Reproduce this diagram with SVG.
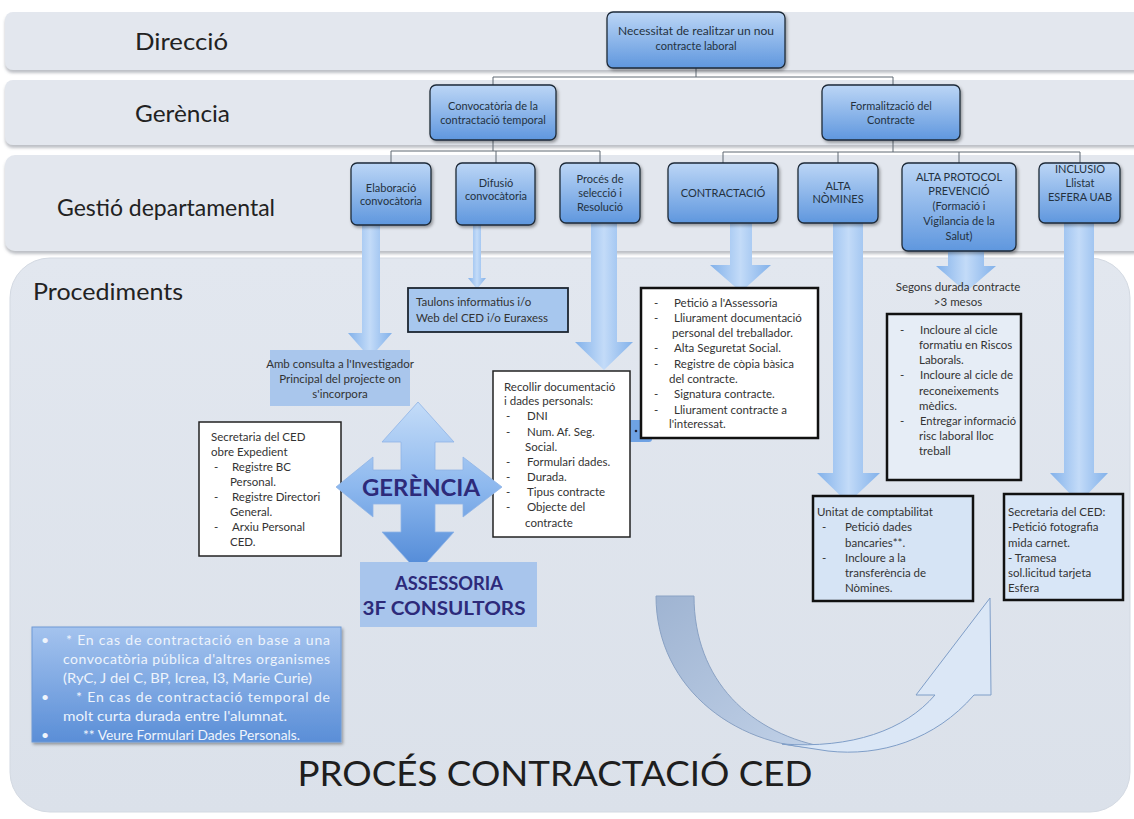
<svg xmlns="http://www.w3.org/2000/svg" width="1134" height="819" viewBox="0 0 1134 819">
<defs>
  <linearGradient id="gNode" x1="0" y1="0" x2="0" y2="1">
    <stop offset="0" stop-color="#bcd6f6"/>
    <stop offset="1" stop-color="#5f97de"/>
  </linearGradient>
  <linearGradient id="gShaft" x1="0" y1="0" x2="1" y2="0">
    <stop offset="0" stop-color="#82b1ea"/>
    <stop offset="0.5" stop-color="#c3dbf8"/>
    <stop offset="1" stop-color="#82b1ea"/>
  </linearGradient>
  <linearGradient id="gCross" x1="0" y1="0" x2="0" y2="1">
    <stop offset="0" stop-color="#c4dcf8"/>
    <stop offset="0.5" stop-color="#8db8ee"/>
    <stop offset="1" stop-color="#4f88d6"/>
  </linearGradient>
  <linearGradient id="gNote" x1="0" y1="0" x2="0" y2="1">
    <stop offset="0" stop-color="#a4c3ee"/>
    <stop offset="1" stop-color="#5a8ed7"/>
  </linearGradient>
  <linearGradient id="gPanel" x1="0" y1="0" x2="0" y2="1">
    <stop offset="0" stop-color="#e2e7ef"/>
    <stop offset="1" stop-color="#dbe1ea"/>
  </linearGradient>
  <linearGradient id="gCurveDark" x1="0" y1="0" x2="1" y2="1">
    <stop offset="0" stop-color="#9fb4d2"/>
    <stop offset="1" stop-color="#c2d2e8"/>
  </linearGradient>
  <filter id="sh" x="-10%" y="-10%" width="130%" height="140%">
    <feDropShadow dx="1.5" dy="2" stdDeviation="1.5" flood-color="#000" flood-opacity="0.35"/>
  </filter>
  <filter id="bandSh" x="-5%" y="-10%" width="110%" height="140%">
    <feDropShadow dx="0" dy="3" stdDeviation="1.5" flood-color="#6d7480" flood-opacity="0.45"/>
  </filter>
  <style>
    .band{fill:#e3e7ee;}
    .lane{font-family:Lato,"Open Sans",sans-serif;font-size:24px;fill:#222;}
    .node rect{fill:url(#gNode);stroke:#1e2a38;stroke-width:1.3;}
    .nt{font-family:Lato,"Open Sans",sans-serif;font-size:11px;fill:#24323f;text-anchor:middle;}
    .nts{font-family:Lato,"Open Sans",sans-serif;font-size:11px;fill:#24323f;text-anchor:middle;}
    .conn{stroke:#5f6872;stroke-width:1;fill:none;}
    .arrow{fill:url(#gShaft);}
    .bt{font-family:Lato,"Open Sans",sans-serif;font-size:11.5px;fill:#333;}
    .btc{font-family:Lato,"Open Sans",sans-serif;font-size:11.5px;fill:#333;text-anchor:middle;}
    .wbox{fill:#fff;stroke:#222;stroke-width:1.5;}
    .kbox{stroke:#111;stroke-width:2.5;}
    .big{font-family:Lato,"Open Sans",sans-serif;font-weight:bold;fill:#2d2a7a;text-anchor:middle;}
    .note{font-family:Lato,"Open Sans",sans-serif;font-size:14px;fill:#eef4fc;}
  </style>
</defs>

<rect width="1134" height="819" fill="#ffffff"/>

<!-- swimlane bands -->
<g id="lanes">
  <rect class="band" x="5" y="12" width="1140" height="58" rx="8" filter="url(#bandSh)"/>
  <rect class="band" x="5" y="80" width="1140" height="65" rx="8" filter="url(#bandSh)"/>
  <rect class="band" x="5" y="155" width="1140" height="96" rx="10" filter="url(#bandSh)"/>
  <rect x="10" y="258" width="1120" height="554" rx="40" fill="url(#gPanel)" stroke="#d3d9e2" stroke-width="1"/>
  <text class="lane" x="135" y="50" textLength="93" lengthAdjust="spacingAndGlyphs">Direcció</text>
  <text class="lane" x="135" y="122" textLength="95" lengthAdjust="spacingAndGlyphs">Gerència</text>
  <text class="lane" x="57" y="216" textLength="218" lengthAdjust="spacingAndGlyphs">Gestió departamental</text>
  <text class="lane" x="33" y="300" textLength="150" lengthAdjust="spacingAndGlyphs">Procediments</text>
</g>

<!-- connectors -->
<g id="connectors">
  <path class="conn" d="M696,68 V77 M493,77 H893 M493,77 V85 M893,77 V85"/>
  <path class="conn" d="M493,140 V151 M391,151 H600 M391,151 V163 M496,151 V163 M600,151 V163"/>
  <path class="conn" d="M893,140 V152 M723,152 H1080 M723,152 V163 M838,152 V163 M959,152 V163 M1080,152 V163"/>
  <path class="arrow" d="M362,225 H380 V333 H392 L370,358 L348,333 H362 Z"/>
  <path class="arrow" d="M473,225 H481 V278 H486 L477,289 L468,278 H473 Z"/>
  <path class="arrow" d="M591,223 H617 V342 H633 L604,370 L575,342 H591 Z"/>
  <path class="arrow" d="M730,223 H752 V265 H771 L741,292 L710,265 H730 Z"/>
  <path class="arrow" d="M833,223 H863 V473 H880 L848,503 L817,473 H833 Z"/>
  <path class="arrow" d="M948,251 H984 V266 H996 L966,292 L936,266 H948 Z"/>
  <path class="arrow" d="M1064,223 H1094 V473 H1108 L1079,503 L1050,473 H1064 Z"/>
  <!-- curved arrow -->
  <path d="M656,596 H694 C694,680 750,735 830,748 C740,751 656,690 656,596 Z" fill="url(#gCurveDark)" stroke="#8aa2c4" stroke-width="1"/>
  <path d="M782,744 C852,749 905,730 935,695 L916,695 L990,598 L991,695 L974,695 C935,740 880,757 828,751 Z" fill="#dbe7f6" stroke="#7f9ec8" stroke-width="1"/>
  <!-- small link -->
  <rect x="626" y="420" width="26" height="22" rx="3" fill="#6ea2e4"/>
  <circle cx="636" cy="431" r="1.3" fill="#223"/>
  <circle cx="642" cy="431" r="1.3" fill="#223"/>
</g>

<!-- top nodes -->
<g id="n-necessitat" class="node">
  <rect x="607" y="12" width="178" height="56" rx="6" filter="url(#sh)"/>
  <text class="nts" x="696" y="35" textLength="156" lengthAdjust="spacingAndGlyphs">Necessitat de realitzar un nou</text>
  <text class="nts" x="696" y="50">contracte laboral</text>
</g>
<g id="n-convocatoria" class="node">
  <rect x="430" y="85" width="126" height="55" rx="6" filter="url(#sh)"/>
  <text class="nts" x="493" y="110">Convocatòria de la</text>
  <text class="nts" x="493" y="124">contractació temporal</text>
</g>
<g id="n-formalitzacio" class="node">
  <rect x="822" y="85" width="138" height="55" rx="6" filter="url(#sh)"/>
  <text class="nts" x="891" y="110">Formalització del</text>
  <text class="nts" x="891" y="124">Contracte</text>
</g>
<g id="n-elaboracio" class="node">
  <rect x="351" y="163" width="80" height="62" rx="6" filter="url(#sh)"/>
  <text class="nt" x="391" y="192">Elaboració</text>
  <text class="nt" x="391" y="205">convocàtoria</text>
</g>
<g id="n-difusio" class="node">
  <rect x="456" y="163" width="79" height="62" rx="6" filter="url(#sh)"/>
  <text class="nt" x="496" y="187">Difusió</text>
  <text class="nt" x="496" y="200">convocàtoria</text>
</g>
<g id="n-proces" class="node">
  <rect x="560" y="163" width="80" height="60" rx="6" filter="url(#sh)"/>
  <text class="nt" x="600" y="183">Procés de</text>
  <text class="nt" x="600" y="197">selecció i</text>
  <text class="nt" x="600" y="211">Resolució</text>
</g>
<g id="n-contractacio" class="node">
  <rect x="668" y="163" width="110" height="60" rx="6" filter="url(#sh)"/>
  <text class="nt" x="723" y="197">CONTRACTACIÓ</text>
</g>
<g id="n-nomines" class="node">
  <rect x="798" y="163" width="80" height="60" rx="6" filter="url(#sh)"/>
  <text class="nt" x="838" y="190">ALTA</text>
  <text class="nt" x="838" y="203">NÒMINES</text>
</g>
<g id="n-protocol" class="node">
  <rect x="902" y="163" width="114" height="88" rx="6" filter="url(#sh)"/>
  <text class="nt" x="959" y="181">ALTA PROTOCOL</text>
  <text class="nt" x="959" y="195">PREVENCIÓ</text>
  <text class="nt" x="959" y="210">(Formació i</text>
  <text class="nt" x="959" y="225">Vigilancia de la</text>
  <text class="nt" x="959" y="240">Salut)</text>
</g>
<g id="n-inclusio" class="node">
  <rect x="1039" y="163" width="81" height="60" rx="6" filter="url(#sh)"/>
  <text class="nt" x="1080" y="173">INCLUSIO</text>
  <text class="nt" x="1080" y="187">Llistat</text>
  <text class="nt" x="1080" y="201">ESFERA UAB</text>
</g>

<!-- procediments -->
<g id="n-taulons">
  <rect x="408" y="288" width="160" height="44" fill="#a7c7ee" stroke="#1c2530" stroke-width="1.8"/>
  <text class="bt" x="416" y="306" fill="#2b3a4c">Taulons informatius i/o</text>
  <text class="bt" x="416" y="322" fill="#2b3a4c">Web del CED i/o Euraxess</text>
</g>
<g id="n-consulta">
  <rect x="270" y="350" width="140" height="56" fill="#a9c6ec"/>
  <text class="btc" x="340" y="368">Amb consulta a l'Investigador</text>
  <text class="btc" x="340" y="383">Principal del projecte on</text>
  <text class="btc" x="340" y="398">s'incorpora</text>
</g>
<g id="n-secretaria">
  <rect class="wbox" x="199" y="422" width="142" height="134"/>
  <text class="bt" x="211" y="441">Secretaria del CED</text>
  <text class="bt" x="211" y="456">obre Expedient</text>
  <text class="bt" x="214" y="471">-</text><text class="bt" x="232" y="471">Registre BC</text>
  <text class="bt" x="230" y="486">Personal.</text>
  <text class="bt" x="214" y="501">-</text><text class="bt" x="232" y="501">Registre Directori</text>
  <text class="bt" x="230" y="516">General.</text>
  <text class="bt" x="214" y="531">-</text><text class="bt" x="232" y="531">Arxiu Personal</text>
  <text class="bt" x="230" y="546">CED.</text>
</g>
<g id="n-recollir">
  <rect class="wbox" x="493" y="371" width="137" height="166"/>
  <text class="bt" x="504" y="391">Recollir documentació</text>
  <text class="bt" x="504" y="405">i dades personals:</text>
  <text class="bt" x="506" y="420">-</text><text class="bt" x="527" y="420">DNI</text>
  <text class="bt" x="506" y="436">-</text><text class="bt" x="527" y="436">Num. Af. Seg.</text>
  <text class="bt" x="525" y="451">Social.</text>
  <text class="bt" x="506" y="466">-</text><text class="bt" x="527" y="466">Formulari dades.</text>
  <text class="bt" x="506" y="481">-</text><text class="bt" x="527" y="481">Durada.</text>
  <text class="bt" x="506" y="496">-</text><text class="bt" x="527" y="496">Tipus contracte</text>
  <text class="bt" x="506" y="511">-</text><text class="bt" x="527" y="511">Objecte del</text>
  <text class="bt" x="525" y="527">contracte</text>
</g>
<g id="n-contractacio-det">
  <rect class="kbox" x="641" y="288" width="177" height="150" fill="#fff"/>
  <text class="bt" x="654" y="307">-</text><text class="bt" x="674" y="307">Petició a l'Assessoria</text>
  <text class="bt" x="654" y="322">-</text><text class="bt" x="674" y="322">Lliurament documentació</text>
  <text class="bt" x="672" y="337">personal del treballador.</text>
  <text class="bt" x="654" y="352">-</text><text class="bt" x="674" y="352">Alta Seguretat Social.</text>
  <text class="bt" x="654" y="368">-</text><text class="bt" x="674" y="368">Registre de còpia bàsica</text>
  <text class="bt" x="669" y="383">del contracte.</text>
  <text class="bt" x="654" y="398">-</text><text class="bt" x="674" y="398">Signatura contracte.</text>
  <text class="bt" x="654" y="414">-</text><text class="bt" x="674" y="414">Lliurament contracte a</text>
  <text class="bt" x="669" y="428">l'interessat.</text>
</g>
<g id="n-segons">
  <text class="btc" x="958" y="291">Segons durada contracte</text>
  <text class="btc" x="958" y="306">&gt;3 mesos</text>
</g>
<g id="n-protocol-det">
  <rect class="kbox" x="887" y="314" width="134" height="166" fill="#e6edf6"/>
  <text class="bt" x="900" y="334">-</text><text class="bt" x="920" y="334">Incloure al cicle</text>
  <text class="bt" x="919" y="349">formatiu en Riscos</text>
  <text class="bt" x="919" y="364">Laborals.</text>
  <text class="bt" x="900" y="379">-</text><text class="bt" x="920" y="379">Incloure al cicle de</text>
  <text class="bt" x="919" y="395">reconeixements</text>
  <text class="bt" x="919" y="410">mèdics.</text>
  <text class="bt" x="900" y="425">-</text><text class="bt" x="920" y="425" textLength="96" lengthAdjust="spacingAndGlyphs">Entregar informació</text>
  <text class="bt" x="919" y="440">risc laboral lloc</text>
  <text class="bt" x="919" y="455">treball</text>
</g>
<g id="n-unitat">
  <rect class="kbox" x="813" y="496" width="160" height="105" fill="#d6e4f5"/>
  <text class="bt" x="817" y="516">Unitat de comptabilitat</text>
  <text class="bt" x="822" y="531">-</text><text class="bt" x="845" y="531">Petició dades</text>
  <text class="bt" x="845" y="547">bancaries**.</text>
  <text class="bt" x="822" y="562">-</text><text class="bt" x="845" y="562">Incloure a la</text>
  <text class="bt" x="845" y="577">transferència de</text>
  <text class="bt" x="845" y="592">Nòmines.</text>
</g>
<g id="n-secretaria-ced">
  <rect class="kbox" x="1004" y="494" width="119" height="106" fill="#d8e6f7"/>
  <text class="bt" x="1008" y="516">Secretaria del CED:</text>
  <text class="bt" x="1008" y="531">-Petició fotografia</text>
  <text class="bt" x="1008" y="547">mida carnet.</text>
  <text class="bt" x="1008" y="562">- Tramesa</text>
  <text class="bt" x="1008" y="577">sol.licitud tarjeta</text>
  <text class="bt" x="1008" y="592">Esfera</text>
</g>

<g id="n-gerencia">
  <path d="M418,402 L454,442 L435,442 L435,470 L463,470 L463,457 L502,487 L463,517 L463,504 L435,504 L435,532 L454,532 L418,572 L382,532 L401,532 L401,504 L373,504 L373,517 L336,487 L373,457 L373,470 L401,470 L401,442 L382,442 Z" fill="url(#gCross)" stroke="#8fb4e6" stroke-width="0.8"/>
  <text class="big" x="421" y="496" font-size="23" textLength="118" lengthAdjust="spacingAndGlyphs">GERÈNCIA</text>
</g>
<g id="n-assessoria">
  <rect x="360" y="562" width="177" height="65" fill="#a8c5ec"/>
  <text class="big" x="449" y="590" font-size="19" textLength="108" lengthAdjust="spacingAndGlyphs">ASSESSORIA</text>
  <text class="big" x="444" y="615" font-size="19" textLength="163" lengthAdjust="spacingAndGlyphs">3F CONSULTORS</text>
</g>

<g id="n-note">
  <rect x="32" y="627" width="309" height="115" fill="url(#gNote)" stroke="#6f9ad6" stroke-width="1" filter="url(#sh)"/>
  <text class="note" x="41" y="645">•</text>
  <text class="note" x="66" y="645" textLength="264" lengthAdjust="spacing">* En cas de contractació en base a una</text>
  <text class="note" x="63" y="664" textLength="267" lengthAdjust="spacing">convocatòria pública d'altres organismes</text>
  <text class="note" x="63" y="683" textLength="249" lengthAdjust="spacingAndGlyphs">(RyC, J del C, BP, Icrea, I3, Marie Curie)</text>
  <text class="note" x="41" y="702">•</text>
  <text class="note" x="76" y="702" textLength="254" lengthAdjust="spacing">* En cas de contractació temporal de</text>
  <text class="note" x="63" y="721" textLength="224" lengthAdjust="spacingAndGlyphs">molt curta durada entre l'alumnat.</text>
  <text class="note" x="41" y="740">•</text>
  <text class="note" x="83" y="740" textLength="217" lengthAdjust="spacingAndGlyphs">** Veure Formulari Dades Personals.</text>
</g>

<text x="555" y="786" font-family="Lato,'Open Sans',sans-serif" font-size="35" fill="#1e1e1e" text-anchor="middle" textLength="515" lengthAdjust="spacingAndGlyphs">PROCÉS CONTRACTACIÓ CED</text>
</svg>
